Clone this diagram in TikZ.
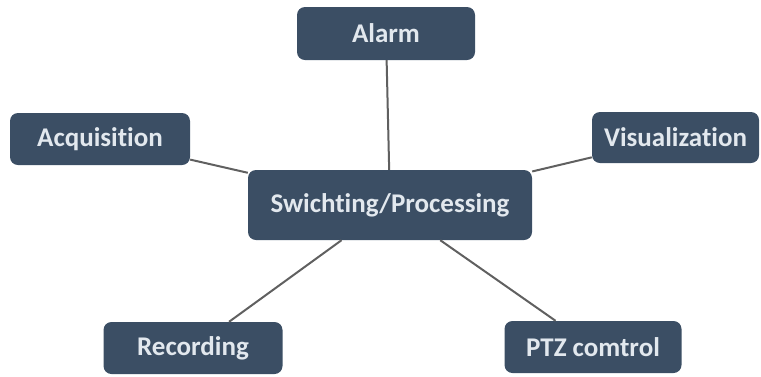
\documentclass[tikz,border=0pt]{standalone}
\usepackage{fontspec}
\setmainfont{Carlito}[Ligatures=NoCommon]
\definecolor{boxfill}{HTML}{3B4E64}
\definecolor{txtcol}{HTML}{E2E8EE}
\definecolor{linecol}{HTML}{606060}
\begin{document}
\begin{tikzpicture}[x=1pt,y=-1pt,
  box/.style={fill=boxfill,rounded corners=8pt,text=txtcol,font=\fontsize{27}{30}\selectfont\bfseries,inner sep=0pt,align=center},
  conn/.style={draw=linecol,line width=2pt}]
\useasboundingbox (0,0) rectangle (761,376);
\node[box,minimum width=178pt,minimum height=53pt] (alarm) at (386,33.5) {Alarm};
\node[box,minimum width=180pt,minimum height=52pt] (acq) at (100,139) {Acquisition};
\node[box,minimum width=167pt,minimum height=51pt] (vis) at (675.5,137.5) {Visualization};
\node[box,minimum width=284pt,minimum height=70pt] (sw) at (390,205) {Swichting/Processing};
\node[box,minimum width=179pt,minimum height=52pt] (rec) at (193,348) {Recording};
\node[box,minimum width=177pt,minimum height=52pt] (ptz) at (593,347) {PTZ comtrol};
\draw[conn] (alarm) -- (sw);
\draw[conn] (acq) -- (sw);
\draw[conn] (vis) -- (sw);
\draw[conn] (rec) -- (sw);
\draw[conn] (ptz) -- (sw);
\end{tikzpicture}
\end{document}
